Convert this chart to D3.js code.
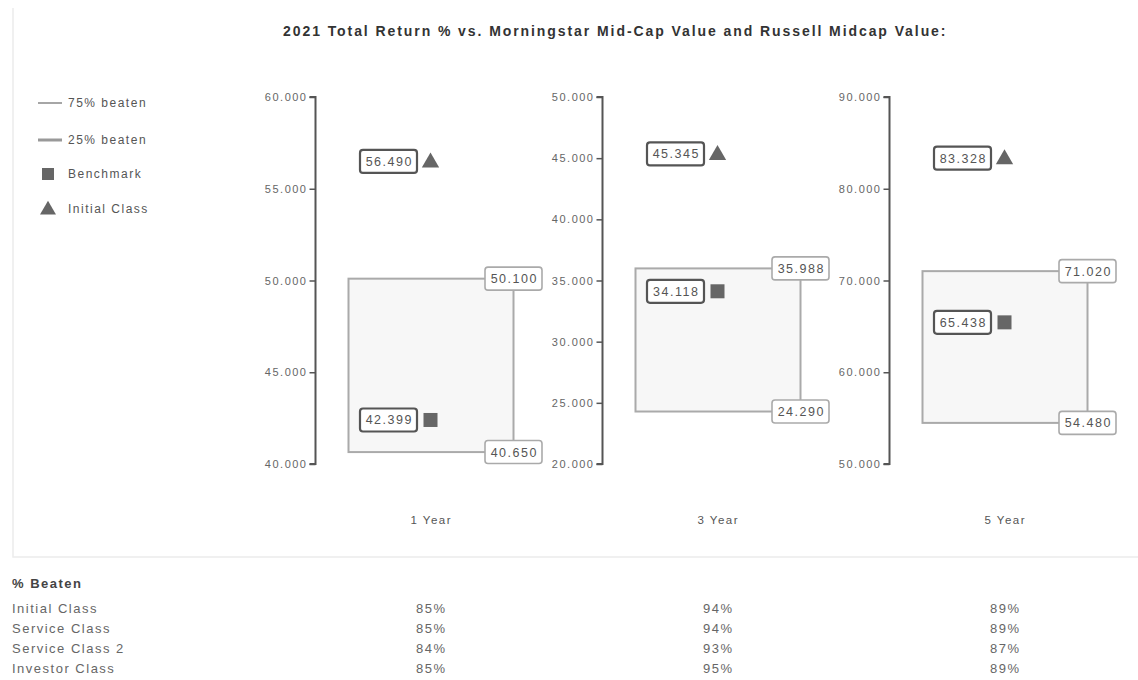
<!DOCTYPE html>
<html><head><meta charset="utf-8">
<script src="https://cdn.jsdelivr.net/npm/d3@7"></script>
<style>
body{margin:0;background:#fff;font-family:"Liberation Sans",Arial,sans-serif;}
svg{display:block;}
svg text{letter-spacing:1.5px;}
</style></head><body>
<svg id="chart" width="1138" height="680"></svg>
<script>
const categories = ["1 Year", "3 Year", "5 Year"];
const pct75 = [50.100, 35.988, 71.020];
const pct25 = [40.650, 24.290, 54.480];
const benchmark = [42.399, 34.118, 65.438];
const initialClass = [56.490, 45.345, 83.328];
const yDomains = [[40, 60], [20, 50], [50, 90]];
const yTickSteps = [5, 5, 10];
const legendLabels = ["75% beaten", "25% beaten", "Benchmark", "Initial Class"];
const tableTitle = "% Beaten";
const tableRows = ["Initial Class", "Service Class", "Service Class 2", "Investor Class"];
const beatenValues = [[85, 94, 89], [85, 94, 89], [84, 93, 87], [85, 95, 89]];
const title = "2021 Total Return % vs. Morningstar Mid-Cap Value and Russell Midcap Value:";

const svg = d3.select("#chart");
const fmt = d3.format(".3f");

// frame
svg.append("path").attr("d", "M13,8 V557 H1138").attr("fill", "none").attr("stroke", "#ececec").attr("stroke-width", 1.5);

svg.append("text").attr("x", 283).attr("y", 36)
  .attr("textLength", 664).attr("lengthAdjust", "spacing")
  .attr("font-size", 14).attr("font-weight", "bold").attr("fill", "#333").text(title);

const x = d3.scaleBand().domain(categories).range([287, 1148]);
const yTop = 97, yBot = 464;

// legend
const lg = svg.append("g").attr("fill", "#555").attr("font-size", 12);
const legY = [103, 140, 174, 209];
lg.append("line").attr("x1", 38).attr("x2", 62).attr("y1", legY[0]).attr("y2", legY[0]).attr("stroke", "#888").attr("stroke-width", 1.5);
lg.append("line").attr("x1", 38).attr("x2", 62).attr("y1", legY[1]).attr("y2", legY[1]).attr("stroke", "#999").attr("stroke-width", 3);
lg.append("rect").attr("x", 42).attr("y", legY[2] - 6).attr("width", 12).attr("height", 12).attr("fill", "#666");
lg.append("path").attr("d", d3.symbol(d3.symbolTriangle, 110)()).attr("transform", `translate(48,${legY[3] + 1})`).attr("fill", "#666");
legendLabels.forEach((t, i) => {
  lg.append("text").attr("x", 68).attr("y", legY[i] + 4).text(t);
});

function labelBox(g, cx, cy, text, strong) {
  const w = 57, h = 23;
  g.append("rect").attr("x", cx - w / 2).attr("y", cy - h / 2).attr("width", w).attr("height", h)
    .attr("rx", 3).attr("fill", "#fff")
    .attr("stroke", strong ? "#555" : "#aaa").attr("stroke-width", strong ? 2.2 : 1.6);
  g.append("text").attr("x", cx + 0.75).attr("y", cy + 4.5).attr("text-anchor", "middle")
    .attr("font-size", 12.5).attr("fill", "#555").text(text);
}

categories.forEach((cat, i) => {
  const c = x(cat) + x.bandwidth() / 2;
  const y = d3.scaleLinear().domain(yDomains[i]).range([yBot, yTop]);
  const ticks = d3.range(yDomains[i][0], yDomains[i][1] + 0.001, yTickSteps[i]);
  const axisX = c - 115;
  const ag = svg.append("g").attr("transform", `translate(${axisX},0)`)
    .call(d3.axisLeft(y).tickValues(ticks).tickFormat(fmt).tickSize(6).tickPadding(2));
  ag.select(".domain").attr("stroke", "#555").attr("stroke-width", 2).attr("d", `M-6,${yTop}H0V${yBot}H-6`);
  ag.selectAll(".tick line").attr("stroke", "#555").attr("stroke-width", 1.5);
  ag.selectAll(".tick text").attr("fill", "#666").attr("font-size", 11).attr("font-family", "Liberation Sans, Arial, sans-serif");

  const g = svg.append("g");
  const left = c - 82, right = c + 83;
  g.append("rect").attr("x", left).attr("y", y(pct75[i])).attr("width", right - left)
    .attr("height", y(pct25[i]) - y(pct75[i])).attr("fill", "#f7f7f7").attr("stroke", "#aaa").attr("stroke-width", 2);
  labelBox(g, right, y(pct75[i]), fmt(pct75[i]), false);
  labelBox(g, right, y(pct25[i]), fmt(pct25[i]), false);

  // benchmark
  g.append("rect").attr("x", c - 7).attr("y", y(benchmark[i]) - 7).attr("width", 14).attr("height", 14).attr("fill", "#666");
  labelBox(g, c - 42, y(benchmark[i]), fmt(benchmark[i]), true);
  // initial class
  g.append("path").attr("d", d3.symbol(d3.symbolTriangle, 130)()).attr("transform", `translate(${c},${y(initialClass[i]) + 1})`).attr("fill", "#666");
  labelBox(g, c - 42, y(initialClass[i]), fmt(initialClass[i]), true);

  svg.append("text").attr("x", c + 0.75).attr("y", 524).attr("text-anchor", "middle")
    .attr("font-size", 11.5).attr("fill", "#555").text(cat);
});

// table
svg.append("text").attr("x", 12).attr("y", 588).attr("font-size", 13).attr("font-weight", "bold").attr("fill", "#444").text(tableTitle);
tableRows.forEach((r, ri) => {
  const ty = 613 + ri * 20;
  svg.append("text").attr("x", 12).attr("y", ty).attr("font-size", 13).attr("fill", "#666").text(r);
  beatenValues[ri].forEach((v, ci) => {
    const c = x(categories[ci]) + x.bandwidth() / 2;
    svg.append("text").attr("x", c + 0.75).attr("y", ty).attr("text-anchor", "middle").attr("font-size", 13).attr("fill", "#666").text(v + "%");
  });
});
</script>
</body></html>
